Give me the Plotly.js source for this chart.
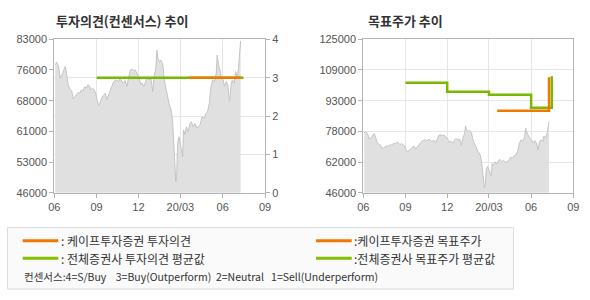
<!DOCTYPE html>
<html>
<head>
<meta charset="utf-8">
<script src="https://cdn.plot.ly/plotly-3.0.1.min.js"></script>
<style>html,body{margin:0;padding:0;background:#fff;}#chart{width:590px;height:300px;}</style>
</head>
<body>
<div id="chart"></div>
<script>
// ---- data ----
const priceDates = [
"2019-06-03","2019-06-06","2019-06-10","2019-06-14","2019-06-19","2019-06-25","2019-06-28",
"2019-07-01","2019-07-05","2019-07-09","2019-07-12","2019-07-16","2019-07-19","2019-07-23","2019-07-26","2019-07-30",
"2019-08-02","2019-08-06","2019-08-09","2019-08-13","2019-08-16","2019-08-20","2019-08-23","2019-08-27","2019-08-30",
"2019-09-05","2019-09-09","2019-09-12","2019-09-16","2019-09-20","2019-09-23","2019-09-27",
"2019-10-01","2019-10-04","2019-10-08","2019-10-11","2019-10-15","2019-10-19","2019-10-22","2019-10-26","2019-10-29",
"2019-11-02","2019-11-06","2019-11-09","2019-11-13","2019-11-17","2019-11-20","2019-11-24","2019-11-28",
"2019-12-02","2019-12-06","2019-12-09","2019-12-13","2019-12-17","2019-12-20","2019-12-24","2019-12-28",
"2020-01-01","2020-01-04","2020-01-08","2020-01-10","2020-01-12","2020-01-15","2020-01-19","2020-01-23","2020-01-26","2020-01-30",
"2020-02-03","2020-02-06","2020-02-10","2020-02-13","2020-02-15","2020-02-17","2020-02-20","2020-02-22","2020-02-24","2020-02-27",
"2020-03-02","2020-03-06","2020-03-08","2020-03-11","2020-03-14","2020-03-18","2020-03-22","2020-03-25","2020-03-29",
"2020-04-02","2020-04-06","2020-04-10","2020-04-13","2020-04-17","2020-04-21","2020-04-25","2020-04-29",
"2020-05-03","2020-05-06","2020-05-10","2020-05-14","2020-05-18","2020-05-20","2020-05-24","2020-05-27","2020-05-29",
"2020-06-02","2020-06-05","2020-06-09","2020-06-12","2020-06-16","2020-06-19","2020-06-22","2020-06-26","2020-06-29",
"2020-07-03","2020-07-06","2020-07-08","2020-07-09","2020-07-10"
];
const priceValues = [
76800,77500,76500,73600,74800,76500,74500,
72000,71000,70500,68600,69200,69500,70200,70000,70800,
70500,71500,71200,72000,71800,70800,71200,70800,70000,
67000,67800,68800,69500,70000,68400,69600,
70800,71800,72800,73000,73200,72800,73600,72800,72400,
73000,71600,73500,75600,75800,75400,75600,74500,
73800,72000,72500,71600,73000,74000,73200,73600,
70400,74000,76400,80400,78500,77600,78000,76800,73200,70800,
68400,67200,66000,63500,59500,55500,48650,49900,57900,59500,
57100,54700,61100,60000,61900,60700,62700,63100,61900,
62700,61600,62000,62400,64300,63800,65000,65500,
67600,71200,73200,72800,74800,79200,76400,75200,74000,
73200,71600,72800,72000,68000,72000,73200,72400,75200,
74000,76800,80400,82400,82600
];

const consensusAvgDates = ["2019-09-01","2020-07-16"];
const consensusAvgValues = [3,3];
const consensusFirmDates = ["2020-03-19","2020-07-10"];
const consensusFirmValues = [3,3];

const targetAvgDates = ["2019-09-01","2019-12-01","2020-03-01","2020-06-01","2020-07-16","2020-07-16"];
const targetAvgValues = [102600,98000,96500,89800,89800,106000];
const targetFirmDates = ["2020-03-19","2020-07-10","2020-07-10"];
const targetFirmValues = [88200,88200,105500];

const xTickVals = ["2019-06-01","2019-09-01","2019-12-01","2020-03-01","2020-06-01","2020-09-01"];
const xTickText = ["06","09","12","20/03","06","09"];
const leftTickVals = [46000,53400,60800,68200,75600,83000];
const leftTickText = ["46000","53000","61000","68000","76000","83000"];
const rightTickVals = [0,1,2,3,4];
const tpTickVals = [46000,61800,77600,93400,109200,125000];
const tpTickText = ["46000","62000","78000","93000","109000","125000"];

// ---- styling ----
const ORANGE = "#f07800";
const GREEN = "#76b900";
const W = 590, H = 300;
const px = v => v / W;
const py = v => 1 - v / H;
const tickFont = {family: "Liberation Sans, Arial, sans-serif", size: 11, color: "#555"};
const krFont = "Noto Sans CJK KR, sans-serif";

const xRange = ["2019-06-01","2020-09-01"];
const xCommon = {
  type: "date", range: xRange, tickmode: "array", tickvals: xTickVals, ticktext: xTickText,
  showgrid: true, gridcolor: "#e6e6e6", gridwidth: 1,
  showline: true, linecolor: "#b4b4b4", linewidth: 1, mirror: true,
  ticks: "outside", ticklen: 4, tickcolor: "#b4b4b4", tickfont: tickFont, zeroline: false, fixedrange: true
};
const yCommon = {
  showline: true, linecolor: "#b4b4b4", linewidth: 1, mirror: true,
  ticks: "outside", ticklen: 4, tickcolor: "#b4b4b4", tickfont: tickFont, zeroline: false, fixedrange: true
};
const yDomain = [py(192.7), py(39.3)];

const traces = [
  {x: priceDates, y: priceValues, type: "scatter", mode: "lines", fill: "tozeroy",
   fillcolor: "#e0e0e0", line: {color: "#c4c4c4", width: 1}, xaxis: "x", yaxis: "y", hoverinfo: "skip"},
  {x: consensusAvgDates, y: consensusAvgValues, type: "scatter", mode: "lines",
   line: {color: GREEN, width: 2.5}, xaxis: "x", yaxis: "y2"},
  {x: consensusFirmDates, y: consensusFirmValues, type: "scatter", mode: "lines",
   line: {color: ORANGE, width: 2.5}, xaxis: "x", yaxis: "y2"},
  {x: priceDates, y: priceValues, type: "scatter", mode: "lines", fill: "tozeroy",
   fillcolor: "#e0e0e0", line: {color: "#c4c4c4", width: 1}, xaxis: "x3", yaxis: "y3", hoverinfo: "skip"},
  {x: targetAvgDates, y: targetAvgValues, type: "scatter", mode: "lines",
   line: {color: GREEN, width: 2.5, shape: "hv"}, xaxis: "x3", yaxis: "y3"},
  {x: targetFirmDates, y: targetFirmValues, type: "scatter", mode: "lines",
   line: {color: ORANGE, width: 2.5, shape: "hv"}, xaxis: "x3", yaxis: "y3"}
];

const layout = {
  width: W, height: H, margin: {l: 0, r: 0, t: 0, b: 0, pad: 0},
  paper_bgcolor: "#fff", plot_bgcolor: "#fff", showlegend: false,
  xaxis: Object.assign({}, xCommon, {domain: [px(54.3), px(265)], anchor: "y"}),
  yaxis: Object.assign({}, yCommon, {domain: yDomain, range: [46000, 83000], tickmode: "array",
    tickvals: leftTickVals, ticktext: leftTickText, showgrid: false, anchor: "x"}),
  yaxis2: Object.assign({}, yCommon, {overlaying: "y", side: "right", range: [0, 4], tickmode: "array",
    tickvals: rightTickVals, showgrid: true, gridcolor: "#e6e6e6", anchor: "x", showline: false}),
  xaxis3: Object.assign({}, xCommon, {domain: [px(363.3), px(573.3)], anchor: "y3"}),
  yaxis3: Object.assign({}, yCommon, {domain: yDomain, range: [46000, 125000], tickmode: "array",
    tickvals: tpTickVals, ticktext: tpTickText, showgrid: true, gridcolor: "#e6e6e6", anchor: "x3"}),
  shapes: [
    {type: "rect", xref: "paper", yref: "paper", x0: px(7.5), x1: px(513.5), y0: py(289), y1: py(227.5),
     fillcolor: "#fafafa", line: {color: "#dcdcdc", width: 1}, layer: "below"},
    {type: "line", xref: "paper", yref: "paper", x0: px(22.7), x1: px(58.3), y0: py(240.7), y1: py(240.7), line: {color: ORANGE, width: 3}},
    {type: "line", xref: "paper", yref: "paper", x0: px(22.7), x1: px(58.3), y0: py(258.3), y1: py(258.3), line: {color: "#84c000", width: 3}},
    {type: "line", xref: "paper", yref: "paper", x0: px(316), x1: px(351.7), y0: py(240.7), y1: py(240.7), line: {color: ORANGE, width: 3}},
    {type: "line", xref: "paper", yref: "paper", x0: px(316), x1: px(351.7), y0: py(258.3), y1: py(258.3), line: {color: "#84c000", width: 3}}
  ],
  annotations: [
    {text: "<b>투자의견(컨센서스) 추이</b>", xref: "paper", yref: "paper", x: px(54), y: py(20.5), xanchor: "left", yanchor: "middle",
     showarrow: false, font: {family: krFont, size: 13, color: "#333"}},
    {text: "<b>목표주가 추이</b>", xref: "paper", yref: "paper", x: px(366), y: py(20.5), xanchor: "left", yanchor: "middle",
     showarrow: false, font: {family: krFont, size: 13, color: "#333"}},
    {text: ": 케이프투자증권 투자의견", xref: "paper", yref: "paper", x: px(58.5), y: py(240.7), xanchor: "left", yanchor: "middle",
     showarrow: false, font: {family: krFont, size: 12, color: "#333"}},
    {text: ": 전체증권사 투자의견 평균값", xref: "paper", yref: "paper", x: px(58.5), y: py(258.3), xanchor: "left", yanchor: "middle",
     showarrow: false, font: {family: krFont, size: 12, color: "#333"}},
    {text: ":케이프투자증권 목표주가", xref: "paper", yref: "paper", x: px(352), y: py(240.7), xanchor: "left", yanchor: "middle",
     showarrow: false, font: {family: krFont, size: 12, color: "#333"}},
    {text: ":전체증권사 목표주가 평균값", xref: "paper", yref: "paper", x: px(352), y: py(258.3), xanchor: "left", yanchor: "middle",
     showarrow: false, font: {family: krFont, size: 12, color: "#333"}},
    {text: "컨센서스:4=S/Buy &nbsp;&nbsp;&nbsp;3=Buy(Outperform) &nbsp;2=Neutral &nbsp;&nbsp;1=Sell(Underperform)", xref: "paper", yref: "paper",
     x: px(22), y: py(276.7), xanchor: "left", yanchor: "middle",
     showarrow: false, font: {family: krFont, size: 10.5, color: "#333"}}
  ]
};

Plotly.newPlot("chart", traces, layout, {staticPlot: true, displayModeBar: false});
</script>
</body>
</html>
